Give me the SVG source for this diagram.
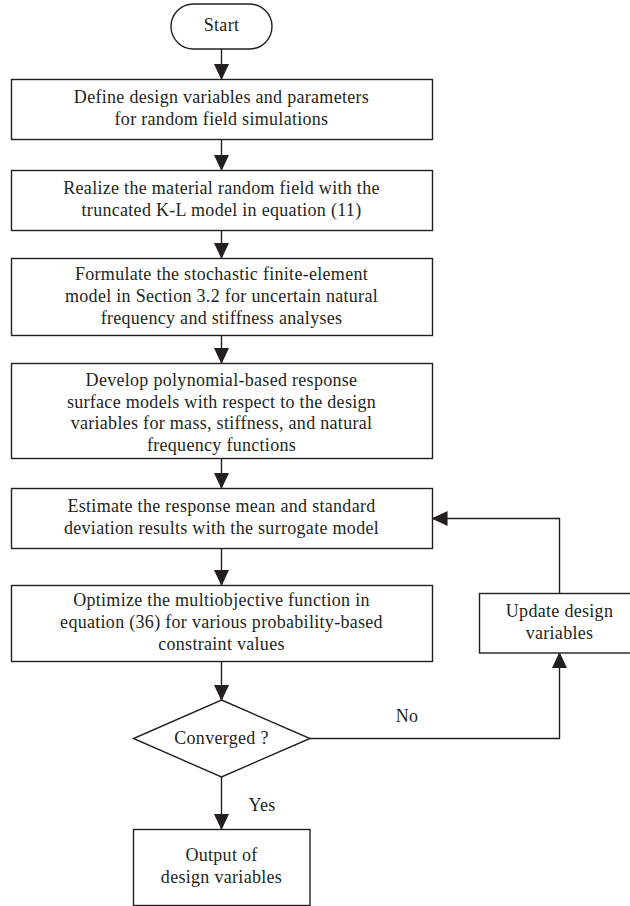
<svg xmlns="http://www.w3.org/2000/svg" width="630" height="906" viewBox="0 0 630 906">
<defs>
<style>
.b{fill:#fff;stroke:#231f20;stroke-width:1.4}
.c{fill:none;stroke:#231f20;stroke-width:1.4}
text{font-family:"Liberation Serif","Times New Roman",serif;font-size:18px;letter-spacing:0.3px;fill:#231f20;text-anchor:middle}
</style>
<marker id="ah" markerWidth="16" markerHeight="18" refX="16" refY="8" orient="auto" markerUnits="userSpaceOnUse" viewBox="0 0 17 16">
<path d="M0,0 L17,8 L0,16 Z" fill="#231f20"/>
</marker>
</defs>
<rect width="630" height="906" fill="#fff"/>
<g id="connectors">
<line class="c" x1="221.5" y1="49" x2="221.5" y2="79" marker-end="url(#ah)"/>
<line class="c" x1="221.5" y1="139" x2="221.5" y2="170" marker-end="url(#ah)"/>
<line class="c" x1="221.5" y1="230" x2="221.5" y2="258" marker-end="url(#ah)"/>
<line class="c" x1="221.5" y1="335" x2="221.5" y2="363" marker-end="url(#ah)"/>
<line class="c" x1="221.5" y1="458" x2="221.5" y2="488" marker-end="url(#ah)"/>
<line class="c" x1="221.5" y1="548" x2="221.5" y2="585" marker-end="url(#ah)"/>
<line class="c" x1="221.5" y1="662" x2="221.5" y2="700" marker-end="url(#ah)"/>
<line class="c" x1="221.5" y1="777" x2="221.5" y2="829" marker-end="url(#ah)"/>
<polyline class="c" points="310,738.5 559.5,738.5 559.5,653" marker-end="url(#ah)"/>
<polyline class="c" points="559.5,593 559.5,518.5 432.5,518.5" marker-end="url(#ah)"/>
<text x="407" y="722">No</text>
<text x="262" y="811">Yes</text>
</g>
<g id="start">
<rect class="b" x="171" y="4" width="101" height="45" rx="22.5"/>
<text x="221.5" y="31">Start</text>
</g>
<g id="define">
<rect class="b" x="11.5" y="79.5" width="421" height="60"/>
<text x="221.5" y="103">Define design variables and parameters</text>
<text x="221.5" y="125">for random field simulations</text>
</g>
<g id="realize">
<rect class="b" x="11.5" y="170.5" width="421" height="60"/>
<text x="221.5" y="194">Realize the material random field with the</text>
<text x="221.5" y="216">truncated K-L model in equation (11)</text>
</g>
<g id="formulate">
<rect class="b" x="11.5" y="258.5" width="421" height="77"/>
<text x="221.5" y="280">Formulate the stochastic finite-element</text>
<text x="221.5" y="302">model in Section 3.2 for uncertain natural</text>
<text x="221.5" y="324">frequency and stiffness analyses</text>
</g>
<g id="develop">
<rect class="b" x="11.5" y="363.5" width="421" height="95"/>
<text x="221.5" y="386">Develop polynomial-based response</text>
<text x="221.5" y="407.5">surface models with respect to the design</text>
<text x="221.5" y="429">variables for mass, stiffness, and natural</text>
<text x="221.5" y="450.5">frequency functions</text>
</g>
<g id="estimate">
<rect class="b" x="11.5" y="488.5" width="421" height="60"/>
<text x="221.5" y="512">Estimate the response mean and standard</text>
<text x="221.5" y="534">deviation results with the surrogate model</text>
</g>
<g id="optimize">
<rect class="b" x="11.5" y="585.5" width="421" height="76"/>
<text x="221.5" y="606">Optimize the multiobjective function in</text>
<text x="221.5" y="628">equation (36) for various probability-based</text>
<text x="221.5" y="650">constraint values</text>
</g>
<g id="update">
<rect class="b" x="479.5" y="593.5" width="160" height="59.5"/>
<text x="559.5" y="617">Update design</text>
<text x="559.5" y="639">variables</text>
</g>
<g id="converged">
<polygon class="b" points="221.5,700 310,738.5 221.5,777 133.5,738.5"/>
<text x="221.5" y="744">Converged ?</text>
</g>
<g id="output">
<rect class="b" x="133.5" y="829.5" width="176.5" height="76"/>
<text x="221.5" y="861">Output of</text>
<text x="221.5" y="883">design variables</text>
</g>
</svg>
